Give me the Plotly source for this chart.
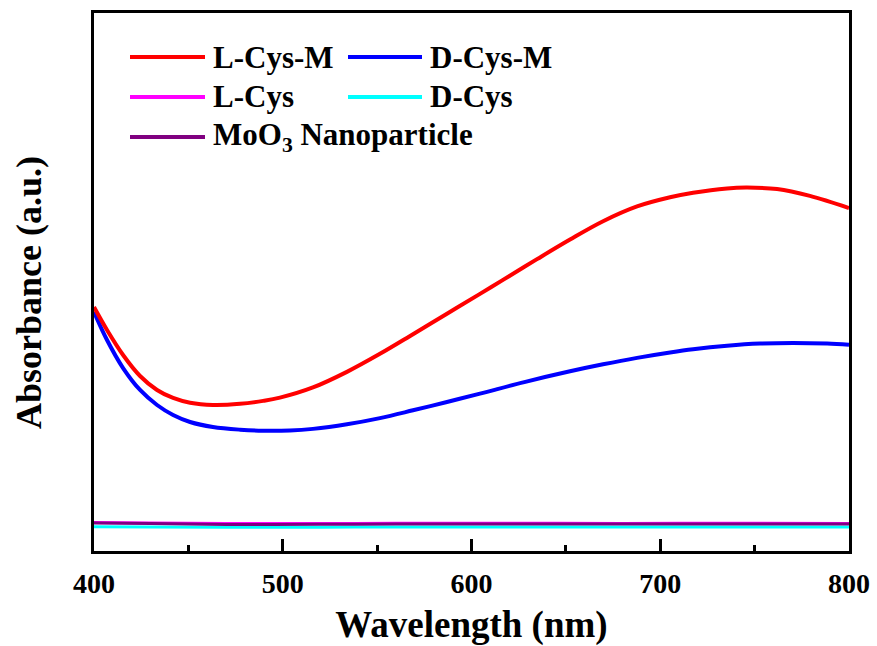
import plotly.graph_objects as go

# ---- data (absorbance, arbitrary units) ----
wl_red = [400, 406.9, 415.4, 424.4, 433.4, 441.9, 450.9, 463, 477.4, 489.6, 498.5,
          516.0, 534.0, 551.5, 569.0, 587.0, 604.5, 616.7, 634.7, 652.2, 669.7,
          687.7, 705.2, 717.4, 735.4, 746.0, 761.9, 779.3, 800]
abs_l_cys_m = [0.4535, 0.4108, 0.3643, 0.3253, 0.2993, 0.2844, 0.2755, 0.2714, 0.2735,
               0.2790, 0.2850, 0.3040, 0.3330, 0.3665, 0.4030, 0.4410, 0.4780, 0.5040,
               0.5425, 0.5790, 0.6130, 0.6405, 0.6575, 0.6660, 0.6740, 0.6755, 0.6728,
               0.6600, 0.6375]

wl_blue = [400, 406.9, 415.4, 424.4, 433.4, 441.9, 450.9, 463, 477.4, 489.6, 503.8,
           516.0, 534.0, 551.5, 569.0, 587.0, 604.5, 628.0, 652.2, 669.7, 687.7,
           705.2, 717.4, 735.4, 752.9, 770.4, 788.4, 800]
abs_d_cys_m = [0.4442, 0.3922, 0.3401, 0.2993, 0.2714, 0.2528, 0.2398, 0.2305, 0.2255,
               0.2235, 0.2240, 0.2270, 0.2355, 0.2470, 0.2615, 0.2770, 0.2925, 0.3140,
               0.3340, 0.3470, 0.3590, 0.3690, 0.3750, 0.3815, 0.3855, 0.3866, 0.3855,
               0.3835]

wl_flat = [400, 430, 470, 520, 560, 620, 680, 740, 800]
abs_l_cys = [0.0530, 0.0520, 0.0510, 0.0510, 0.0515, 0.0515, 0.0512, 0.0515, 0.0512]
abs_d_cys = [0.0450, 0.0446, 0.0440, 0.0442, 0.0446, 0.0446, 0.0444, 0.0446, 0.0444]
abs_moo3 = [0.0520, 0.0510, 0.0492, 0.0496, 0.0502, 0.0502, 0.0500, 0.0502, 0.0500]

series = [
    ("L-Cys-M", wl_red, abs_l_cys_m, "#FF0000", 4),
    ("D-Cys-M", wl_blue, abs_d_cys_m, "#0000FF", 4),
    ("L-Cys", wl_flat, abs_l_cys, "#FF00FF", 3),
    ("D-Cys", wl_flat, abs_d_cys, "#00FFFF", 3),
    ("MoO<sub>3</sub> Nanoparticle", wl_flat, abs_moo3, "#800080", 3),
]

x_ticks = [400, 500, 600, 700, 800]

FONT = "Liberation Serif, Times New Roman, serif"

fig = go.Figure()
# draw cyan first so purple/magenta overlay like reference
order = [3, 2, 4, 1, 0]
for i in order:
    name, xs, ys, col, w = series[i]
    fig.add_trace(go.Scatter(x=xs, y=ys, mode="lines", name=name,
                             line=dict(color=col, width=w, shape="spline", smoothing=1.0),
                             showlegend=False))

# manual legend (paper coords)
W0, W1 = 94, 849
H0, H1 = 13, 551
def px(xp):
    return (xp - W0) / (W1 - W0)
def py(yp):
    return (H1 - yp) / (H1 - H0)

legend_items = [
    (series[0], 130, 205, 211, 57),
    (series[1], 348, 422, 428, 57),
    (series[2], 130, 205, 211, 97),
    (series[3], 348, 422, 428, 97),
    (series[4], 130, 205, 211, 137),
]
for (name, xs, ys, col, w), x0, x1, xt, yc in legend_items:
    fig.add_shape(type="line", xref="paper", yref="paper",
                  x0=px(x0), x1=px(x1), y0=py(yc), y1=py(yc),
                  line=dict(color=col, width=4))
    fig.add_annotation(xref="paper", yref="paper", x=px(xt), y=py(yc),
                       text="<b>%s</b>" % name, showarrow=False,
                       xanchor="left", yanchor="middle",
                       font=dict(family=FONT, size=31, color="black"))

# y-axis title
fig.add_annotation(xref="paper", yref="paper", x=px(29), y=py(293),
                   text="<b>Absorbance (a.u.)</b>", showarrow=False, textangle=-90,
                   xanchor="center", yanchor="middle",
                   font=dict(family=FONT, size=36, color="black"))

fig.update_layout(
    width=877, height=646,
    margin=dict(l=W0, r=877 - W1, t=H0, b=646 - H1, autoexpand=False),
    paper_bgcolor="white", plot_bgcolor="white",
    showlegend=False,
    font=dict(family=FONT, color="black"),
)
fig.update_xaxes(
    range=[400, 800], tickvals=x_ticks, ticktext=["<b>%d</b>" % v for v in x_ticks],
    ticks="inside", ticklen=12, tickwidth=2.5, tickcolor="black",
    ticklabelstandoff=5, automargin=False,
    minor=dict(ticks="inside", ticklen=6, tickwidth=2.5, tickcolor="black", dtick=50,
               showgrid=False),
    showline=True, linewidth=3, linecolor="black", mirror=True,
    showgrid=False, zeroline=False,
    tickfont=dict(family=FONT, size=28, color="black"),
    title=dict(text="<b>Wavelength (nm)</b>", font=dict(family=FONT, size=37, color="black"),
               standoff=14),
)
fig.update_yaxes(
    range=[0, 1], showticklabels=False, ticks="", automargin=False,
    showline=True, linewidth=3, linecolor="black", mirror=True,
    showgrid=False, zeroline=False,
)

fig.write_html("out.html")
